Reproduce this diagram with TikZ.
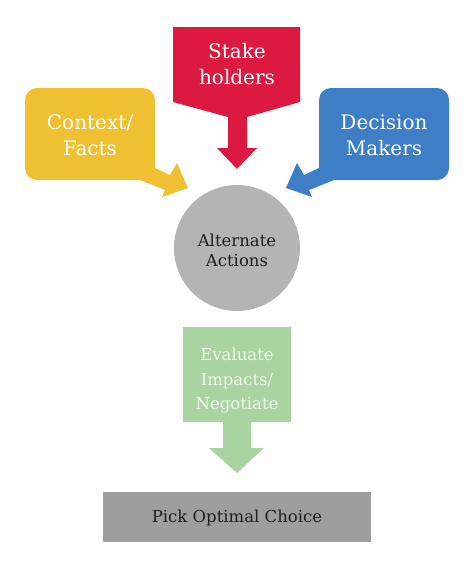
\documentclass[tikz,border=0pt]{standalone}
\usepackage{fontspec}
\setmainfont{DejaVu Serif}
\definecolor{cred}{HTML}{DC1A41}
\definecolor{cyellow}{HTML}{F0C033}
\definecolor{cblue}{HTML}{3D7EC6}
\definecolor{cgreen}{HTML}{A9D3A1}
\definecolor{ccircle}{HTML}{B4B4B4}
\definecolor{cbar}{HTML}{9E9E9E}
\definecolor{gtext}{HTML}{F0F7EC}
\definecolor{dtext}{HTML}{1E1E1E}
\begin{document}
\begin{tikzpicture}[x=1pt,y=-1pt,
  bigtxt/.style={align=center,text=white,font=\fontsize{20}{26}\selectfont,inner sep=0pt},
  midtxt/.style={align=center,font=\fontsize{16.5}{20}\selectfont,inner sep=0pt}]
\useasboundingbox (0,0) rectangle (474,579);
% red callout
\fill[cred] (173,27) -- (300,27) -- (300,102) -- (247,117) -- (247,148) -- (257,148)
  -- (237,169) -- (217,148) -- (228,148) -- (228,117) -- (173,102) -- cycle;
\node[bigtxt] (stake) at (237,64) {Stake\\holders};
% yellow callout
\fill[cyellow] (25,134) [rounded corners=12pt] -- (25,88) -- (155,88) -- (155,120)
  [sharp corners] -- (155,168) -- (170,175) -- (177,163) -- (188,188) -- (162,197) -- (165,190)
  -- (140,180) -- (100,180) [rounded corners=12pt] -- (25,180) -- (25,134) -- cycle;
\node[bigtxt] (context) at (90,135) {Context/\\Facts};
% blue callout
\fill[cblue] (449,134) [rounded corners=12pt] -- (449,88) -- (319,88) -- (319,120)
  [sharp corners] -- (319,168) -- (304,175) -- (297,163) -- (286,188) -- (312,197) -- (309,190)
  -- (334,180) -- (374,180) [rounded corners=12pt] -- (449,180) -- (449,134) -- cycle;
\node[bigtxt] (decision) at (384,135) {Decision\\Makers};
% circle
\node[circle,fill=ccircle,minimum size=126pt,inner sep=0pt] (alt) at (237,248) {};
\node[midtxt,text=dtext] (alttxt) at (237,250) {Alternate\\Actions};
% green callout
\fill[cgreen] (183,327) -- (291,327) -- (291,422) -- (251,422) -- (251,448) -- (264,448)
  -- (237,473) -- (209,448) -- (223,448) -- (223,422) -- (183,422) -- cycle;
\node[midtxt,text=gtext,font=\fontsize{16.5}{24.5}\selectfont] (eval) at (237,381) {Evaluate\\Impacts/\\Negotiate};
% bottom bar
\node[fill=cbar,minimum width=268pt,minimum height=50pt,inner sep=0pt] (pick) at (237,517) {};
\node[midtxt,text=dtext] (picktxt) at (237,518) {Pick Optimal Choice};
\end{tikzpicture}
\end{document}
